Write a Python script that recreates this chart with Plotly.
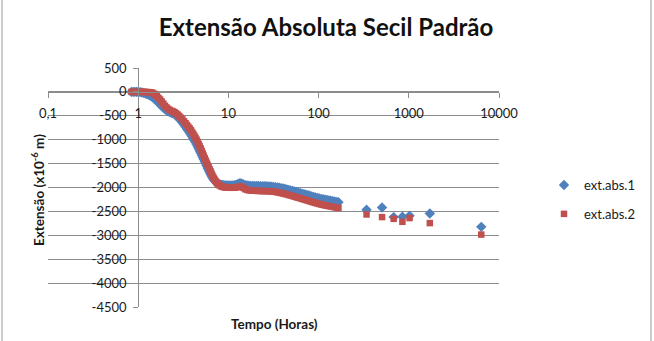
import plotly.graph_objects as go

# ---------------- data ----------------
tempo_denso = [
    0.84, 0.88, 0.92, 0.96, 1.00, 1.05, 1.10, 1.15, 1.20, 1.25, 1.31, 1.37, 1.43,
    1.49, 1.55, 1.61, 1.68, 1.75, 1.82, 1.90, 1.98, 2.06, 2.15, 2.24, 2.33, 2.43,
    2.53, 2.63, 2.74, 2.85, 2.97, 3.09, 3.22, 3.35, 3.48, 3.60, 3.72, 3.84, 3.96,
    4.08, 4.20, 4.32, 4.44, 4.56, 4.68, 4.80, 4.93, 5.06, 5.19, 5.32, 5.46, 5.60,
    5.74, 5.88, 6.03, 6.18, 6.33, 6.49, 6.65, 6.82, 6.99, 7.17, 7.36, 7.56, 7.77,
    8.0, 8.25, 8.5, 8.8, 9.1, 9.4,
    9.8, 10.2, 10.7, 11.2, 11.7, 12.2, 12.8, 13.4, 14.0, 14.7, 15.4, 16.1, 16.9,
    17.7, 18.6, 19.5, 20.5, 21.5, 22.6, 23.7, 24.9, 26.1, 27.4, 28.8, 30.2, 31.7,
    33.3, 35.0, 36.7, 38.5, 40.4, 42.4, 44.5, 46.7, 49.0, 51.5, 54.0, 56.7, 59.5,
    62.5, 65.6, 68.9, 72.3, 75.9, 79.7, 83.7, 87.9, 92.3, 96.9, 102, 107, 112,
    118, 124, 130, 136, 143, 150, 158, 166,
]

ext1_denso = [
    0, 0, 0, 0, 0, -5, -12, -20, -32, -45, -62, -82, -105,
    -130, -160, -190, -225, -260, -295, -330, -360, -385, -405, -420, -435, -450,
    -470, -495, -525, -560, -600, -640, -685, -730, -775, -815, -855, -895, -935,
    -975, -1015, -1055, -1095, -1140, -1185, -1230, -1275, -1320, -1365, -1410, -1455, -1500,
    -1545, -1590, -1635, -1675, -1715, -1755, -1790, -1820, -1850, -1875, -1895, -1912, -1925,
    -1935, -1942, -1948, -1952, -1955, -1957,
    -1958, -1958, -1957, -1955, -1950, -1942, -1928, -1912, -1915, -1935, -1950, -1958, -1962,
    -1965, -1967, -1968, -1969, -1970, -1971, -1972, -1973, -1975, -1977, -1980, -1983, -1987,
    -1992, -1998, -2005, -2013, -2022, -2031, -2041, -2051, -2062, -2073, -2084, -2095, -2106,
    -2117, -2128, -2139, -2150, -2161, -2172, -2185, -2198, -2210, -2220, -2229, -2238, -2246,
    -2254, -2262, -2270, -2278, -2286, -2294, -2302, -2310,
]

ext2_denso = [
    0, 0, 0, 0, 0, 0, 0, 0, -2, -3, -5, -8, -15,
    -35, -60, -90, -125, -160, -200, -245, -290, -325, -355, -378, -395, -408,
    -425, -450, -475, -505, -540, -575, -615, -655, -695, -730, -765, -800, -840,
    -880, -920, -960, -1000, -1045, -1090, -1135, -1185, -1235, -1285, -1335, -1385, -1435,
    -1480, -1525, -1570, -1615, -1660, -1705, -1750, -1790, -1825, -1860, -1890, -1915, -1938,
    -1955, -1970, -1982, -1990, -1996, -2000,
    -2003, -2005, -2006, -2006, -2004, -2000, -1990, -1975, -1985, -2010, -2035, -2050, -2058,
    -2063, -2066, -2068, -2070, -2072, -2073, -2074, -2075, -2076, -2077, -2079, -2082, -2086,
    -2092, -2100, -2108, -2117, -2126, -2135, -2145, -2156, -2167, -2178, -2190, -2202, -2214,
    -2226, -2238, -2250, -2262, -2274, -2287, -2300, -2312, -2323, -2334, -2345, -2355, -2364,
    -2373, -2381, -2389, -2396, -2404, -2412, -2421, -2430,
]

tempo_esparso = [340, 505, 680, 850, 1020, 1710, 6360]
ext1_esparso = [-2465, -2417, -2619, -2613, -2592, -2543, -2823]
ext2_esparso = [-2564, -2619, -2655, -2718, -2640, -2745, -2985]

x_tickvals = [0.1, 1, 10, 100, 1000, 10000]
x_ticktext = ["0,1", "1", "10", "100", "1000", "10000"]
y_tickvals = [500, 0, -500, -1000, -1500, -2000, -2500, -3000, -3500, -4000, -4500]
y_ticktext = ["500", "0", "-500", "-1000", "-1500", "-2000", "-2500", "-3000",
              "-3500", "-4000", "-4500"]

serie_nomes = ["ext.abs.1", "ext.abs.2"]

# ---------------- figure ----------------
FONT = "Lato, 'Open Sans', 'DejaVu Sans', sans-serif"
GRID = "#8c8c8c"
BLUE = "#4F81BD"
RED = "#C0504D"

fig = go.Figure()
fig.add_trace(go.Scatter(
    x=tempo_denso + tempo_esparso, y=ext1_denso + ext1_esparso,
    mode="markers", name=serie_nomes[0], legendgroup="a",
    marker=dict(symbol="diamond", size=8, color=BLUE, line=dict(width=0)),
))
fig.add_trace(go.Scatter(
    x=tempo_denso + tempo_esparso, y=ext2_denso + ext2_esparso,
    mode="markers", name=serie_nomes[1], legendgroup="b",
    marker=dict(symbol="square", size=6.5, color=RED, line=dict(width=0)),
))

L, R, T, B = 48, 155, 68, 34
W, H = 654, 341
pw, ph = W - L - R, H - T - B


def px2x(px):
    return (px - L) / pw


def py2y(py):
    return (H - B - py) / ph


fig.update_layout(
    width=W, height=H,
    margin=dict(l=L, r=R, t=T, b=B),
    paper_bgcolor="white", plot_bgcolor="white",
    font=dict(family=FONT, size=13, color="#1a1a1a"),
    title=dict(text="<b>Extensão Absoluta Secil Padrão</b>",
               x=326 / W, xanchor="center", y=1 - 28 / H, yanchor="middle",
               font=dict(family=FONT, size=24, color="#111111")),
    showlegend=True,
    legend=dict(x=px2x(544), xanchor="left", y=py2y(170), yanchor="top",
                font=dict(family=FONT, size=13, color="#1a1a1a"),
                tracegroupgap=9, bgcolor="rgba(0,0,0,0)"),
    xaxis=dict(type="log", range=[-1, 4], showgrid=False, zeroline=False,
               tickvals=x_tickvals, ticktext=x_ticktext,
               anchor="free", position=0.9,
               showline=True, linecolor=GRID, linewidth=1,
               ticks="outside", ticklen=5, tickcolor=GRID,
               ticklabelstandoff=4,
               tickfont=dict(family=FONT, size=13, color="#1a1a1a")),
    yaxis=dict(range=[-4500, 500], tickvals=y_tickvals, ticktext=y_ticktext,
               showgrid=True, gridcolor=GRID, gridwidth=1, zeroline=False,
               anchor="free", position=0.2,
               showline=True, linecolor=GRID, linewidth=1,
               ticks="outside", ticklen=5, tickcolor=GRID,
               ticklabelstandoff=4,
               tickfont=dict(family=FONT, size=13, color="#1a1a1a")),
    annotations=[
        dict(text="<b>Extensão (x10<sup>-6</sup> m)</b>", textangle=-90,
             x=px2x(38), y=py2y(190), xref="paper", yref="paper",
             xanchor="center", yanchor="middle", showarrow=False,
             font=dict(family=FONT, size=13.5, color="#1a1a1a")),
        dict(text="<b>Tempo (Horas)</b>",
             x=px2x(274), y=py2y(324), xref="paper", yref="paper",
             xanchor="center", yanchor="middle", showarrow=False,
             font=dict(family=FONT, size=13.5, color="#1a1a1a")),
    ],
    shapes=[
        dict(type="line", xref="paper", yref="paper",
             x0=px2x(2), x1=px2x(2), y0=py2y(-5), y1=py2y(346),
             line=dict(color="#9a9a9a", width=1)),
        dict(type="line", xref="paper", yref="paper",
             x0=px2x(651), x1=px2x(651), y0=py2y(-5), y1=py2y(346),
             line=dict(color="#9a9a9a", width=1)),
    ],
)

fig.write_html("out.html")
